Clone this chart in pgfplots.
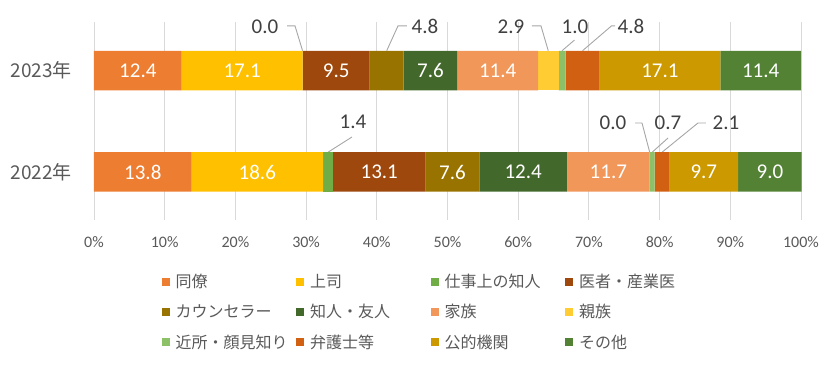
\documentclass[border=0pt]{standalone}
\usepackage{pgfplots}
\pgfplotsset{compat=1.18}
\usepackage{fontspec}
\setmainfont{Carlito}
\newfontfamily\cjk{Noto Sans CJK JP}
\definecolor{c1}{HTML}{ED7D31}
\definecolor{c2}{HTML}{FFC000}
\definecolor{c3}{HTML}{70AD47}
\definecolor{c4}{HTML}{9E480E}
\definecolor{c5}{HTML}{997300}
\definecolor{c6}{HTML}{43682B}
\definecolor{c7}{HTML}{F1975A}
\definecolor{c8}{HTML}{FFCD33}
\definecolor{c9}{HTML}{8CC168}
\definecolor{c10}{HTML}{D26012}
\definecolor{c11}{HTML}{CC9A00}
\definecolor{c12}{HTML}{548235}
\definecolor{txtgray}{HTML}{595959}
\definecolor{lblgray}{HTML}{404040}
\definecolor{gridgray}{HTML}{D9D9D9}
\definecolor{leadgray}{HTML}{A6A6A6}
\tikzset{olbl/.style={font=\fontsize{21}{21}\selectfont, text=lblgray, inner sep=0pt},
  lead/.style={draw=leadgray, line width=0.9pt}}
\def\nolbl{-}
\newcommand{\seglbl}[1]{\edef\tmplbl{#1}%
  \ifx\tmplbl\nolbl\else\tmplbl\fi}
\begin{document}
\begin{tikzpicture}[x=1pt,y=1pt]
\path[use as bounding box] (0,0) rectangle (840,366);
\begin{axis}[
  at={(94pt,146pt)}, anchor=south west,
  scale only axis, width=707pt, height=198pt,
  xbar stacked, bar width=39.5pt,
  xmin=0, xmax=100, ymin=-0.473, ymax=1.478,
  clip=false,
  axis line style={draw=none},
  major tick length=0pt,
  xmajorgrids, grid style={draw=gridgray, line width=0.9pt},
  xtick={0,10,20,30,40,50,60,70,80,90,100},
  xticklabel={\pgfmathprintnumber[assume math mode=true]{\tick}\%},
  xticklabel style={font=\fontsize{16}{16}\selectfont, text=txtgray, inner sep=0pt, yshift=-16pt},
  ytick={0,1},
  yticklabels={2022年,2023年},
  yticklabel style={font=\cjk\fontsize{19}{19}\selectfont, text=txtgray, inner sep=0pt, xshift=-22pt},
  point meta=explicit symbolic,
  nodes near coords={\seglbl{\pgfplotspointmeta}},
  every node near coord/.append style={anchor=center, font=\fontsize{21}{21}\selectfont, text=white, inner sep=0pt},
  legend image code/.code={\fill[#1] (0pt,-4pt) rectangle (8pt,4pt);},
  legend style={at={(0.0955,-0.272)}, anchor=north west, draw=none, fill=none,
    inner sep=0pt, font=\cjk\fontsize{16}{16}\selectfont, text=txtgray,
    column sep=0pt, row sep=15.5pt, nodes={inner sep=0pt}},
  legend columns=4,
  legend cell align=left,
]
\addplot[fill=c1, draw=none] table[x=v, y=yr, meta=lab] {
yr v lab
0 13.8 13.8
1 12.4 12.4
};
\addlegendentry{\makebox[126.5pt][l]{\hspace{6pt}同僚}}
\addplot[fill=c2, draw=none] table[x=v, y=yr, meta=lab] {
yr v lab
0 18.6 18.6
1 17.1 17.1
};
\addlegendentry{\makebox[126.5pt][l]{\hspace{6pt}上司}}
\addplot[fill=c3, draw=none] table[x=v, y=yr, meta=lab] {
yr v lab
0 1.4 -
1 0.0 -
};
\addlegendentry{\makebox[126.5pt][l]{\hspace{6pt}仕事上の知人}}
\addplot[fill=c4, draw=none] table[x=v, y=yr, meta=lab] {
yr v lab
0 13.1 13.1
1 9.5 9.5
};
\addlegendentry{\makebox[126.5pt][l]{\hspace{6pt}医者・産業医}}
\addplot[fill=c5, draw=none] table[x=v, y=yr, meta=lab] {
yr v lab
0 7.6 7.6
1 4.8 -
};
\addlegendentry{\makebox[126.5pt][l]{\hspace{6pt}カウンセラー}}
\addplot[fill=c6, draw=none] table[x=v, y=yr, meta=lab] {
yr v lab
0 12.4 12.4
1 7.6 7.6
};
\addlegendentry{\makebox[126.5pt][l]{\hspace{6pt}知人・友人}}
\addplot[fill=c7, draw=none] table[x=v, y=yr, meta=lab] {
yr v lab
0 11.7 11.7
1 11.4 11.4
};
\addlegendentry{\makebox[126.5pt][l]{\hspace{6pt}家族}}
\addplot[fill=c8, draw=none] table[x=v, y=yr, meta=lab] {
yr v lab
0 0.0 -
1 2.9 -
};
\addlegendentry{\makebox[126.5pt][l]{\hspace{6pt}親族}}
\addplot[fill=c9, draw=none] table[x=v, y=yr, meta=lab] {
yr v lab
0 0.7 -
1 1.0 -
};
\addlegendentry{\makebox[126.5pt][l]{\hspace{6pt}近所・顔見知り}}
\addplot[fill=c10, draw=none] table[x=v, y=yr, meta=lab] {
yr v lab
0 2.1 -
1 4.8 -
};
\addlegendentry{\makebox[126.5pt][l]{\hspace{6pt}弁護士等}}
\addplot[fill=c11, draw=none] table[x=v, y=yr, meta=lab] {
yr v lab
0 9.7 9.7
1 17.1 17.1
};
\addlegendentry{\makebox[126.5pt][l]{\hspace{6pt}公的機関}}
\addplot[fill=c12, draw=none] table[x=v, y=yr, meta=lab] {
yr v lab
0 9.0 9.0
1 11.4 11.4
};
\addlegendentry{\makebox[126.5pt][l]{\hspace{6pt}その他}}

\node[olbl] at (axis cs:24.19,1.43) {0.0};
\node[olbl] at (axis cs:46.82,1.43) {4.8};
\node[olbl] at (axis cs:58.98,1.43) {2.9};
\node[olbl] at (axis cs:68.03,1.43) {1.0};
\node[olbl] at (axis cs:75.95,1.43) {4.8};
\node[olbl] at (axis cs:36.63,0.49) {1.4};
\node[olbl] at (axis cs:73.40,0.483) {0.0};
\node[olbl] at (axis cs:81.19,0.483) {0.7};
\node[olbl] at (axis cs:89.39,0.483) {2.1};
\draw[lead] (axis cs:27.3,1.44) -- (axis cs:28.43,1.44) -- (axis cs:29.5,1.195);
\draw[lead] (axis cs:41.4,1.195) -- (axis cs:43.0,1.44) -- (axis cs:44.27,1.44);
\draw[lead] (axis cs:61.95,1.44) -- (axis cs:63.22,1.44) -- (axis cs:64.25,1.195);
\draw[lead] (axis cs:66.2,1.195) -- (axis cs:67.96,1.30);
\draw[lead] (axis cs:69.1,1.195) -- (axis cs:73.2,1.44) -- (axis cs:73.7,1.44);
\draw[lead] (axis cs:33.1,0.195) -- (axis cs:36.49,0.345);
\draw[lead] (axis cs:76.52,0.483) -- (axis cs:77.51,0.483) -- (axis cs:78.6,0.195);
\draw[lead] (axis cs:78.95,0.195) -- (axis cs:81.19,0.335);
\draw[lead] (axis cs:80.35,0.195) -- (axis cs:85.43,0.483) -- (axis cs:86.56,0.483);
\end{axis}
\end{tikzpicture}
\end{document}
